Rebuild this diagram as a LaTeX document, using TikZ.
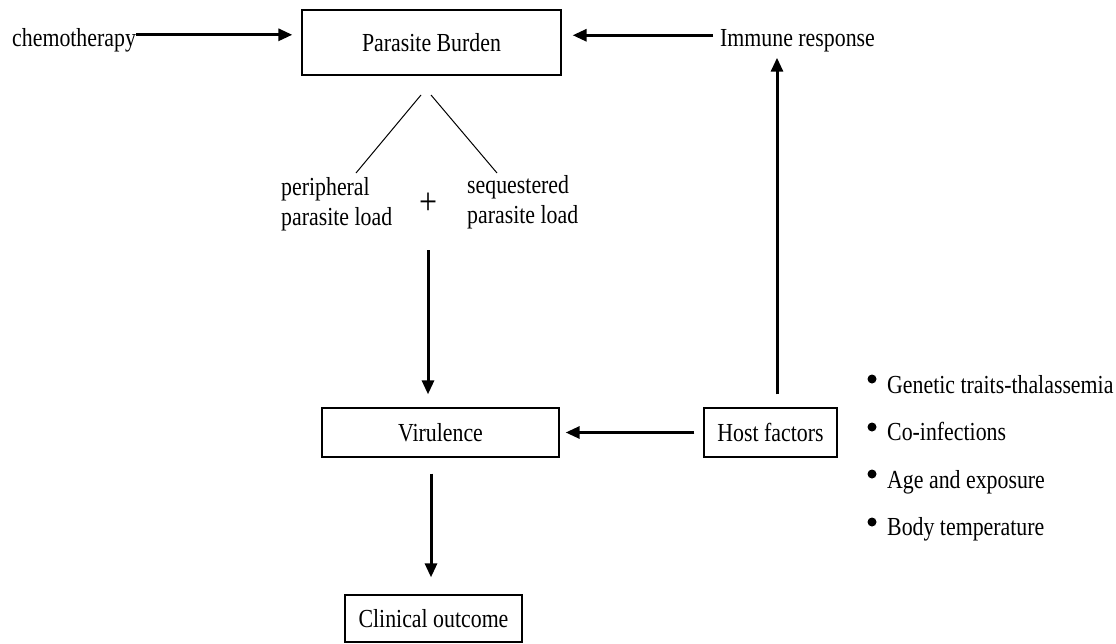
\documentclass[tikz,border=0pt]{standalone}
\usepackage{fontspec}
\setmainfont{Liberation Serif}[FakeStretch = 0.84]
\usetikzlibrary{arrows.meta}

\begin{document}
\begin{tikzpicture}[x = 1pt, y = -1pt, > = {Triangle[length = 14pt, width = 12pt]},
	font = \fontsize{26}{30}\selectfont, inner sep = 0pt,
	box/.style = {draw, line width = 1.3pt},
	arr/.style = {->, line width = 3pt}]

	\useasboundingbox (0, 0) rectangle (1116, 643);

	% Boxes

	\node [box, minimum width = 259, minimum height = 65] (burden) at (431.5, 42.5) {Parasite Burden};
	\node [box, minimum width = 237, minimum height = 49] (vir) at (440.5, 432.5) {Virulence};
	\node [box, minimum width = 133, minimum height = 49] (host) at (770.5, 432.5) {Host factors};
	\node [box, minimum width = 177, minimum height = 47] (clin) at (433.5, 618.5) {Clinical outcome};

	% Free labels

	\node [anchor = base west] (chemo) at (12, 46) {chemotherapy};
	\node [anchor = base west] (immune) at (720, 46) {Immune response};

	\node [anchor = west, align = left] (periph) at (281, 204) {peripheral\\parasite load};
	\node [anchor = west, align = left] (seq) at (467, 202) {sequestered\\parasite load};
	\node [font = \fontsize{38}{38}\selectfont] (plus) at (428, 204) {+};

	% Split of the burden

	\coordinate (forkL) at (421, 95);
	\coordinate (forkR) at (431, 95);
	\coordinate (endL) at (356, 173);
	\coordinate (endR) at (497, 173);
	\coordinate (loads) at (428, 250);

	\draw [line width = 1pt] (forkL) -- (endL);
	\draw [line width = 1pt] (forkR) -- (endR);

	% Arrows

	\draw [arr, shorten >= 9pt] ([yshift = 5pt] chemo.east) -- ([yshift = 5pt] chemo.east -| burden.west);
	\draw [arr, shorten <= 7pt, shorten >= 11pt] ([yshift = 5pt] immune.west) -- ([yshift = 5pt] immune.west -| burden.east);
	\draw [arr, shorten >= 13pt] (loads) -- (loads |- vir.north);
	\draw [arr, shorten <= 9pt, shorten >= 6pt] (host.west) -- (vir.east);
	\draw [arr, shorten <= 13pt, shorten >= 6pt] ([xshift = 6.5pt] host.north) -- ([xshift = 6.5pt] host.north |- immune.south);
	\draw [arr, shorten <= 16pt, shorten >= 17pt] ([xshift = -9.5pt] vir.south) -- ([xshift = -9.5pt] vir.south |- clin.north);

	% Host factor list

	\fill (872, 379) circle (4.5);
	\fill (872, 427) circle (4.5);
	\fill (872, 474) circle (4.5);
	\fill (872, 522) circle (4.5);

	\node [anchor = base west] (gen) at (887, 393) {Genetic traits-thalassemia};
	\node [anchor = base west] (coinf) at (887, 440) {Co-infections};
	\node [anchor = base west] (age) at (887, 488) {Age and exposure};
	\node [anchor = base west] (temp) at (887, 535) {Body temperature};

\end{tikzpicture}
\end{document}
